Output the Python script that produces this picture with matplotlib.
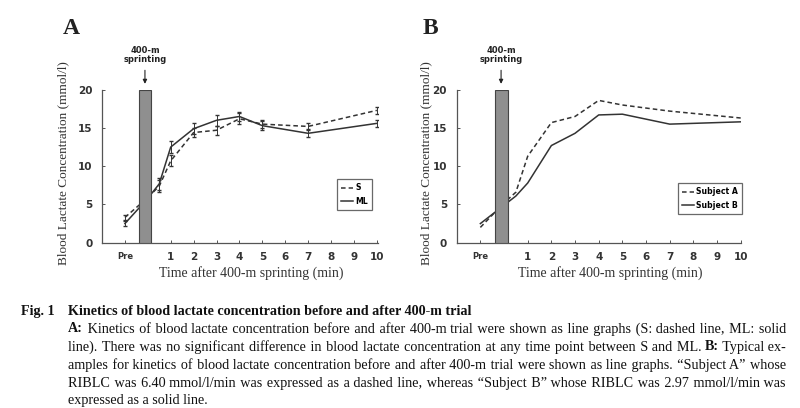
import numpy as np
import matplotlib
matplotlib.use('Agg')
import matplotlib.pyplot as plt
from matplotlib.lines import Line2D

# --- data ----------------------------------------------------------------
times = [-1, 0, 0.5, 1, 2, 3, 4, 5, 7, 10]          # -1 = "Pre"
tick_pos = [-1, 1, 2, 3, 4, 5, 6, 7, 8, 9, 10]
tick_lab = ['Pre', '1', '2', '3', '4', '5', '6', '7', '8', '9', '10']

s_mean = [3.3, 5.9, 7.4, 10.7, 14.4, 14.7, 16.2, 15.5, 15.2, 17.3]
s_err = [0.3, 0.0, 0.8, 0.7, 0.6, 0.6, 0.7, 0.5, 0.5, 0.5]
ml_mean = [2.5, 5.8, 7.7, 12.5, 14.9, 16.0, 16.5, 15.3, 14.3, 15.6]
ml_err = [0.3, 0.0, 0.8, 0.8, 0.7, 0.7, 0.6, 0.6, 0.5, 0.5]

subj_a = [2.0, 5.2, 6.6, 11.3, 15.7, 16.5, 18.6, 18.0, 17.2, 16.3]
subj_b = [2.5, 4.9, 6.1, 7.8, 12.7, 14.3, 16.7, 16.8, 15.5, 15.8]

bar_left, bar_right, bar_top = -0.4, 0.15, 20

cap_title = "Kinetics of blood lactate concentration before and after 400-m trial"
# (bold lead, rest of line)
cap_lines = [
    ("A:", " Kinetics of blood lactate concentration before and after 400-m trial were shown as line graphs (S: dashed line, ML: solid"),
    ("", "line). There was no significant difference in blood lactate concentration at any time point between S and ML."),
    ("", "amples for kinetics of blood lactate concentration before and after 400-m trial were shown as line graphs. \u201cSubject A\u201d whose"),
    ("", "RIBLC was 6.40 mmol/l/min was expressed as a dashed line, whereas \u201cSubject B\u201d whose RIBLC was 2.97 mmol/l/min was"),
    ("", "expressed as a solid line."),
]
line2_tail = ("B:", " Typical ex-")

SERIF = 'Liberation Serif'
SANS = 'DejaVu Sans'
LC = '#333333'
DASH = (0, (3, 2))

fig = plt.figure(figsize=(8, 4.08), dpi=100)
W, H = 800, 408

def px_axes(l, t, r, b):
    return fig.add_axes([l / W, 1 - b / H, (r - l) / W, (b - t) / H])

axA = px_axes(102, 89.7, 378, 242.7)
axB = px_axes(456.7, 89.7, 740.7, 242.7)

def style(ax, xmax):
    ax.set_xlim(-2, xmax)
    ax.set_ylim(0, 20)
    ax.spines['top'].set_visible(False)
    ax.spines['right'].set_visible(False)
    for s in ('left', 'bottom'):
        ax.spines[s].set_color('#555555')
        ax.spines[s].set_linewidth(0.9)
    ax.set_yticks([0, 5, 10, 15, 20])
    ax.set_xticks(tick_pos)
    ax.set_xticklabels(tick_lab)
    ax.tick_params(direction='in', length=2.5, width=0.7, color='#555555',
                   labelsize=7.5, pad=7)
    for t in ax.get_yticklabels() + ax.get_xticklabels():
        t.set_fontweight('bold'); t.set_family(SANS); t.set_color('#333333')
    ax.get_xticklabels()[0].set_fontsize(6)
    ax.set_ylabel('Blood Lactate Concentration (mmol/l)', family=SERIF,
                  fontsize=9.5, color='#333333')
    ax.set_xlabel('Time after 400-m sprinting (min)', family=SERIF,
                  fontsize=10, color='#333333')
    ax.xaxis.set_label_coords(0.54, -0.155)
    ax.bar([(bar_left + bar_right) / 2], [bar_top], width=bar_right - bar_left,
           color='#8f8f8f', edgecolor='#444444', linewidth=0.8, zorder=5)
    ax.annotate('', xy=((bar_left + bar_right) / 2, bar_top + 0.4),
                xytext=((bar_left + bar_right) / 2, bar_top + 2.9),
                arrowprops=dict(arrowstyle='-|>', color='#222222', lw=0.8,
                                mutation_scale=6), annotation_clip=False)
    ax.text((bar_left + bar_right) / 2, bar_top + 3.3, '400-m\nsprinting',
            ha='center', va='bottom', fontsize=6, fontweight='bold',
            family=SANS, color='#222222', linespacing=1.1, clip_on=False)

def legend(ax, labels, left_px, top_px, ax_left, ax_w):
    handles = [Line2D([], [], color=LC, lw=1.1, ls=DASH),
               Line2D([], [], color=LC, lw=1.1, ls='-')]
    leg = ax.legend(handles, labels, loc='upper left',
                    bbox_to_anchor=((left_px - ax_left) / ax_w, (242.7 - top_px) / 153),
                    borderaxespad=0, frameon=True, fancybox=False,
                    handlelength=1.5, handletextpad=0.3,
                    borderpad=0.55, labelspacing=0.55,
                    prop=dict(family=SANS, size=5.6, weight='bold'))
    leg.get_frame().set_edgecolor('#444444')
    leg.get_frame().set_linewidth(0.9)

style(axA, 10.05)
style(axB, 10.0)
axA.yaxis.set_label_coords(-0.12, 0.52)
axB.yaxis.set_label_coords(-0.085, 0.52)

# panel A
axA.errorbar(times, s_mean, yerr=s_err, color=LC, lw=1.1, ls=DASH,
             capsize=1.5, elinewidth=0.7, zorder=3)
axA.errorbar(times, ml_mean, yerr=ml_err, color=LC, lw=1.1, ls='-',
             capsize=1.5, elinewidth=0.7, zorder=3)
legend(axA, ['S', 'ML'], 337, 179, 102, 276)

# panel B
axB.plot(times, subj_a, color=LC, lw=1.1, ls=DASH, zorder=3)
axB.plot(times, subj_b, color=LC, lw=1.1, ls='-', zorder=3)
legend(axB, ['Subject A', 'Subject B'], 678, 183, 456.7, 284)

fig.text(63 / W, 1 - 28 / H, 'A', family=SERIF, fontsize=17, fontweight='bold',
         va='center', ha='left', color='#222222')
fig.text(423 / W, 1 - 28 / H, 'B', family=SERIF, fontsize=17, fontweight='bold',
         va='center', ha='left', color='#222222')

# caption
CAP = 10.2
FAM = [SERIF, 'DejaVu Serif']
fig.text(21 / W, 1 - 315 / H, 'Fig. 1', family=SERIF, fontsize=CAP, fontweight='bold',
         va='baseline', ha='left', color='#111111')
fig.text(68 / W, 1 - 315 / H, cap_title, family=SERIF, fontsize=CAP, fontweight='bold',
         va='baseline', ha='left', color='#111111')

fig.canvas.draw()
renderer = fig.canvas.get_renderer()
HAIR = '\u200a'

def width(s, bold=False):
    t = fig.text(0, 0, s, family=FAM, fontsize=CAP, fontweight='bold' if bold else 'normal')
    w = t.get_window_extent(renderer).width
    t.remove()
    return w

hair_w = (width('a' + HAIR * 20 + 'a') - width('aa')) / 20

def justify(s, target):
    # widen spaces with hair spaces so the string spans target pixels
    n = s.count(' ')
    extra = target - width(s)
    if n == 0 or extra <= 0 or hair_w <= 0:
        return s
    k = extra / hair_w / n
    out, acc = [], 0.0
    for ch in s:
        if ch == ' ':
            acc += k
            m = int(round(acc))
            acc -= m
            out.append(' ' + HAIR * m)
        else:
            out.append(ch)
    return ''.join(out)

x0, x1 = 68, 786
ys = [332.5, 350.5, 368.5, 386.5, 404]
for i, (lead, rest) in enumerate(cap_lines):
    x = x0
    if lead:
        fig.text(x / W, 1 - ys[i] / H, lead, family=FAM, fontsize=CAP, fontweight='bold',
                 va='baseline', ha='left', color='#111111')
        x += width(lead, True)
    if i == 1:
        tail_w = width(line2_tail[0], True) + width(line2_tail[1])
        body = justify(rest, x1 - x - tail_w - width(' '))
        fig.text(x / W, 1 - ys[i] / H, body, family=FAM, fontsize=CAP,
                 va='baseline', ha='left', color='#111111')
        xb = x1 - tail_w
        fig.text(xb / W, 1 - ys[i] / H, line2_tail[0], family=FAM, fontsize=CAP,
                 fontweight='bold', va='baseline', ha='left', color='#111111')
        fig.text((xb + width(line2_tail[0], True)) / W, 1 - ys[i] / H, line2_tail[1],
                 family=FAM, fontsize=CAP, va='baseline', ha='left', color='#111111')
        continue
    body = rest if i == len(cap_lines) - 1 else justify(rest, x1 - x)
    fig.text(x / W, 1 - ys[i] / H, body, family=FAM, fontsize=CAP,
             va='baseline', ha='left', color='#111111')

fig.savefig('out.png', dpi=100)
